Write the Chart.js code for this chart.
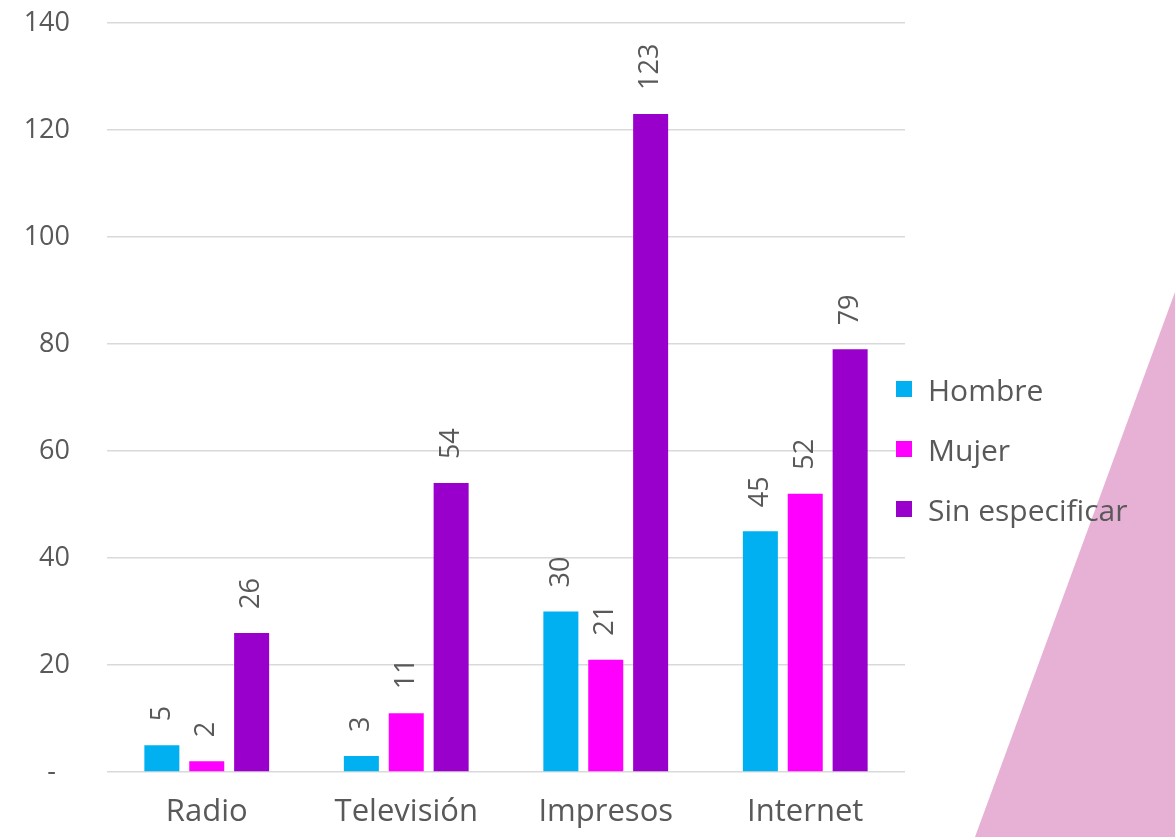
<!DOCTYPE html>
<html>
<head>
<meta charset="utf-8">
<script src="https://cdn.jsdelivr.net/npm/chart.js@4"></script>
<style>
    html, body { margin: 0; padding: 0; background: #fff; }
    #wrap { position: relative; width: 1175px; height: 837px; overflow: hidden; font-family: "Open Sans", sans-serif; }
    #deco { position: absolute; inset: 0; background: #e6b1d4; clip-path: polygon(1175px 292px, 1175px 837px, 975px 837px); }
    canvas { position: absolute; left: 0; top: 0; }
    #legend { position: absolute; left: 896px; top: 359px; }
    #legend .item { display: flex; align-items: center; height: 60px; font-size: 30px; color: #595959; white-space: nowrap; }
    #legend .sw { width: 16px; height: 16px; margin-right: 16px; }
</style>
</head>
<body>
<div id="wrap">
    <div id="deco"></div>
    <canvas id="chart" width="1175" height="837"></canvas>
    <div id="legend"></div>
</div>
<script>
const categories = ['Radio', 'Televisión', 'Impresos', 'Internet'];
const hombre = [5, 3, 30, 45];
const mujer = [2, 11, 21, 52];
const sinEspecificar = [26, 54, 123, 79];
const seriesNames = ['Hombre', 'Mujer', 'Sin especificar'];
const seriesColors = ['#00b0f0', '#ff00ff', '#9900cc'];

const FONT = '"Open Sans", sans-serif';
const GREY = '#595959';

// etiquetas de valor giradas encima de cada barra
const barLabels = {
    id: 'barLabels',
    afterDatasetsDraw(chart) {
        const ctx = chart.ctx;
        ctx.save();
        ctx.font = `27px ${FONT}`;
        ctx.fillStyle = GREY;
        ctx.textAlign = 'left';
        ctx.textBaseline = 'middle';
        chart.data.datasets.forEach((ds, i) => {
            chart.getDatasetMeta(i).data.forEach((bar, j) => {
                ctx.save();
                ctx.translate(bar.x, bar.y - 24);
                ctx.rotate(-Math.PI / 2);
                ctx.fillText(String(ds.data[j]), 0, 0);
                ctx.restore();
            });
        });
        ctx.restore();
    }
};

const chart = new Chart(document.getElementById('chart'), {
    type: 'bar',
    data: {
        labels: categories,
        datasets: [hombre, mujer, sinEspecificar].map((d, i) => ({
            label: seriesNames[i],
            data: d,
            backgroundColor: seriesColors[i],
            categoryPercentage: 0.675,
            barPercentage: 0.78
        }))
    },
    options: {
        responsive: false,
        animation: false,
        layout: { padding: { left: 0, right: 270, top: 23, bottom: 0 } },
        plugins: { legend: { display: false }, tooltip: { enabled: false } },
        scales: {
            x: {
                grid: { display: false },
                border: { display: false },
                ticks: { color: GREY, font: { family: FONT, size: 31 }, padding: 14 },
                afterFit(scale) { scale.height = 65; }
            },
            y: {
                min: 0, max: 140,
                grid: { color: '#d9d9d9', lineWidth: 1.5, drawTicks: false },
                border: { display: false },
                ticks: {
                    stepSize: 20,
                    color: GREY,
                    font: { family: FONT, size: 27 },
                    padding: 37,
                    callback: (v) => v === 0 ? '-  ' : v
                },
                afterFit(scale) {
                    scale.width = 107;
                    scale.paddingTop = 0;
                    scale.paddingBottom = 0;
                }
            }
        }
    },
    plugins: [barLabels]
});

const legend = document.getElementById('legend');
seriesNames.forEach((name, i) => {
    const item = document.createElement('div');
    item.className = 'item';
    item.innerHTML = `<span class="sw" style="background:${seriesColors[i]}"></span><span>${name}</span>`;
    legend.appendChild(item);
});
</script>
</body>
</html>
